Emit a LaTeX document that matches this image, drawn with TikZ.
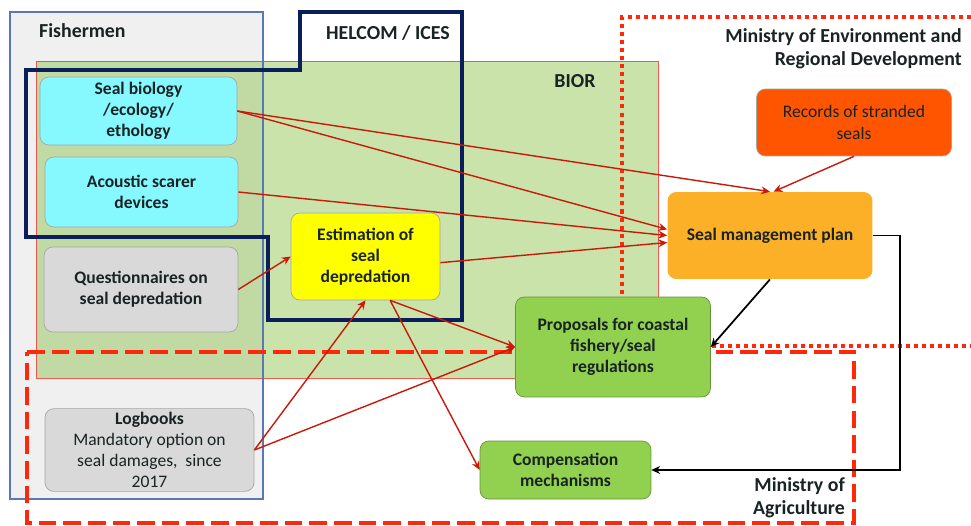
\documentclass[tikz,border=0pt]{standalone}
\usepackage{fontspec}
\setmainfont{Carlito}
\usetikzlibrary{arrows.meta}

\definecolor{fishgray}{RGB}{240,240,240}
\definecolor{fishblue}{RGB}{90,120,180}
\definecolor{biorgreen}{RGB}{201,227,170}
\definecolor{biorred}{RGB}{240,90,80}
\definecolor{helcomblue}{RGB}{10,30,90}
\definecolor{minred}{RGB}{255,40,10}
\definecolor{arrowred}{RGB}{200,25,10}
\definecolor{boxcyan}{RGB}{133,249,255}
\definecolor{boxgray}{RGB}{217,217,217}
\definecolor{boxyellow}{RGB}{255,255,0}
\definecolor{boxorange}{RGB}{255,85,0}
\definecolor{boxamber}{RGB}{251,176,40}
\definecolor{boxgreen}{RGB}{146,208,80}
\definecolor{textdark}{RGB}{25,35,35}

\tikzset{
  box/.style={draw=black!35, rounded corners=5pt, align=center, inner sep=2pt,
    font=\fontsize{10}{12}\selectfont\bfseries, text=textdark},
  grouplabel/.style={font=\fontsize{11.3}{13}\selectfont\bfseries, text=textdark},
  redarrow/.style={draw=arrowred, line width=0.8pt, -{Stealth[length=5pt,width=4.5pt]}},
  blackarrow/.style={draw=black, line width=1pt, -{Stealth[length=5pt,width=4.5pt]}},
  dotline/.style={draw=minred, line width=2.3pt, dash pattern=on 2.3pt off 2.3pt},
  dashline/.style={draw=minred, line width=2.3pt, dash pattern=on 10pt off 4pt}
}

\begin{document}
\begin{tikzpicture}[x=0.02cm, y=-0.02cm]
    \useasboundingbox (0,0) rectangle (971,525);

    % Group areas
    \fill[fishgray] (10,12) rectangle (263,499);
    \draw[biorred, fill=biorgreen] (36,61) rectangle (658,378);
    \fill[black, opacity=0.04] (36,61) rectangle (263,378);
    \draw[fishblue, line width=0.6pt] (10,12) rectangle (263,499);

    % Ministries
    \draw[dotline] (971,17) -- (622,17) -- (622,346) -- (971,346);
    \draw[dashline] (27,352) -- (854,352) -- (854,523) -- (27,523) -- cycle;

    % HELCOM / ICES outline
    \draw[helcomblue, line width=2.3pt] (26,70) -- (300,70) -- (300,12) -- (462,12)
        -- (462,320) -- (268,320) -- (268,237) -- (26,237) -- cycle;

    % Group labels
    \node[grouplabel, anchor=west] (fishlbl) at (33,31) {Fishermen};
    \node[grouplabel, anchor=east] (helcomlbl) at (456,33) {HELCOM / ICES};
    \node[grouplabel] (biorlbl) at (575,81) {BIOR};
    \node[grouplabel, anchor=east, align=right] (envlbl) at (968,48.5)
        {Ministry of Environment and\\Regional Development};
    \node[grouplabel, anchor=east, align=right] (agrilbl) at (851,497.5)
        {Ministry of\\Agriculture};

    % Boxes
    \node[box, fill=boxcyan, minimum width=3.94cm, minimum height=1.36cm] (bio) at (138.5,111)
        {Seal biology\\/ecology/\\ethology};
    \node[box, fill=boxcyan, minimum width=3.86cm, minimum height=1.40cm] (scarer) at (141.5,192)
        {Acoustic scarer\\devices};
    \node[box, fill=boxgray, minimum width=3.88cm, minimum height=1.70cm] (quest) at (141,289.5)
        {Questionnaires on\\seal depredation};
    \node[box, fill=boxyellow, minimum width=2.98cm, minimum height=1.74cm] (estim) at (365.5,256.5)
        {Estimation of\\seal\\depredation};
    \node[box, fill=boxgray, minimum width=4.18cm, minimum height=1.64cm] (logbook) at (149.5,450)
        {Logbooks\\\mdseries Mandatory option on\\\mdseries seal damages,\ \ since\\\mdseries 2017};
    \node[box, fill=boxorange, minimum width=3.9cm, minimum height=1.34cm, font=\fontsize{10}{12}\selectfont] (records) at (854,122.5)
        {Records of stranded\\seals};
    \node[box, fill=boxamber, draw=none, minimum width=4.1cm, minimum height=1.74cm] (plan) at (770,235.5)
        {Seal management plan};
    \node[box, fill=boxgreen, draw=black!30!boxgreen, minimum width=3.9cm, minimum height=2.0cm] (proposal) at (613,347)
        {Proposals for coastal\\fishery/seal\\regulations};
    \node[box, fill=boxgreen, draw=black!30!boxgreen, minimum width=3.42cm, minimum height=1.16cm] (comp) at (565.5,470)
        {Compensation\\mechanisms};

    % Red connectors
    \draw[redarrow] (bio.east) -- (plan.north);
    \draw[redarrow] (bio.east) -- ([yshift=3.5pt]plan.west);
    \draw[redarrow] (scarer.east) -- (plan.west);
    \draw[redarrow] (quest.east) -- (estim.west);
    \draw[redarrow] ([yshift=-3.5pt]estim.east) -- ([yshift=-4pt]plan.west);
    \draw[redarrow] ([xshift=14pt]estim.south) -- (proposal.west);
    \draw[redarrow] ([xshift=14pt]estim.south) -- (comp.west);
    \draw[redarrow] (logbook.east) -- (estim.south);
    \draw[redarrow] (logbook.east) -- (proposal.west);
    \draw[redarrow] (records.south) -- ([xshift=2pt]plan.north);

    % Black connectors
    \draw[blackarrow] (plan.south) -- (proposal.east);
    \draw[blackarrow] (plan.east) -- ++(27,0) |- (comp.east);

\end{tikzpicture}
\end{document}
